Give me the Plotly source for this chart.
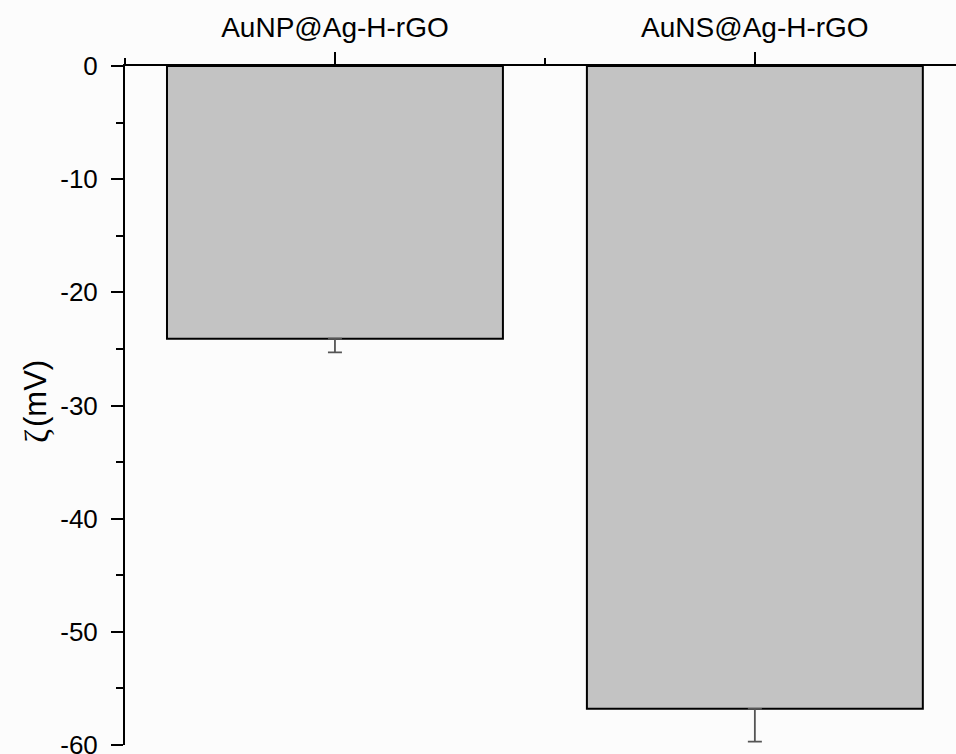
import plotly.graph_objects as go

categories = ["AuNP@Ag-H-rGO", "AuNS@Ag-H-rGO"]
zeta_values = [-24.1, -56.8]
zeta_err_minus = [1.2, 2.9]
positions = [0, 1]
y_tick_vals = [0, -10, -20, -30, -40, -50, -60]
y_tick_text = ["0", "-10", "-20", "-30", "-40", "-50", "-60"]

fig = go.Figure()
fig.add_trace(go.Bar(
    x=positions,
    y=zeta_values,
    width=0.8,
    marker=dict(color="#c3c3c3", line=dict(color="black", width=2)),
    error_y=dict(type="data", symmetric=False, array=[0, 0], arrayminus=zeta_err_minus,
                 color="#555555", thickness=1.8, width=7),
    showlegend=False,
))

font_family = "Liberation Sans, Arial, sans-serif"

fig.update_layout(
    width=956, height=754,
    margin=dict(l=125, r=0, t=66, b=9, autoexpand=False),
    paper_bgcolor="#fcfcfc",
    plot_bgcolor="#fcfcfc",
    font=dict(family=font_family, color="black"),
    bargap=0.2,
)
fig.update_xaxes(
    side="top",
    range=[-0.5, 1.479],
    tickmode="array",
    tickvals=positions,
    ticktext=categories,
    ticks="outside", ticklen=12, tickwidth=2, tickcolor="black",
    minor=dict(tickmode="linear", tick0=0.5, dtick=1, ticks="outside", ticklen=6, tickwidth=2, tickcolor="black"),
    showline=True, linecolor="black", linewidth=2,
    showgrid=False, zeroline=False,
    tickfont=dict(size=28, family=font_family, color="black"),
    ticklabelstandoff=4,
    automargin=False,
)
fig.update_yaxes(
    range=[-60, 0],
    tickmode="array", tickvals=y_tick_vals, ticktext=y_tick_text,
    ticks="outside", ticklen=12, tickwidth=2, tickcolor="black",
    minor=dict(tickmode="linear", tick0=0, dtick=5, ticks="outside", ticklen=7, tickwidth=2, tickcolor="black"),
    showline=True, linecolor="black", linewidth=2,
    showgrid=False, zeroline=False,
    tickfont=dict(size=26, family=font_family, color="black"),
    ticklabeloverflow="allow",
    ticklabelstandoff=8,
    automargin=False,
)

def paper_y(py):
    return (745 - py) / 679

fig.add_annotation(
    xref="paper", yref="paper",
    x=(36 - 125) / 831, y=paper_y(394),
    xanchor="center", yanchor="middle",
    textangle=-90, showarrow=False,
    text="(mV)",
    font=dict(size=31, family=font_family, color="black"),
)
fig.add_annotation(
    xref="paper", yref="paper",
    x=(36 - 125) / 831, y=paper_y(436),
    xanchor="center", yanchor="middle",
    textangle=-90, showarrow=False,
    text="ζ",
    font=dict(size=34, family="Liberation Serif, Times New Roman, serif", color="black"),
)

fig.write_html("out.html")
